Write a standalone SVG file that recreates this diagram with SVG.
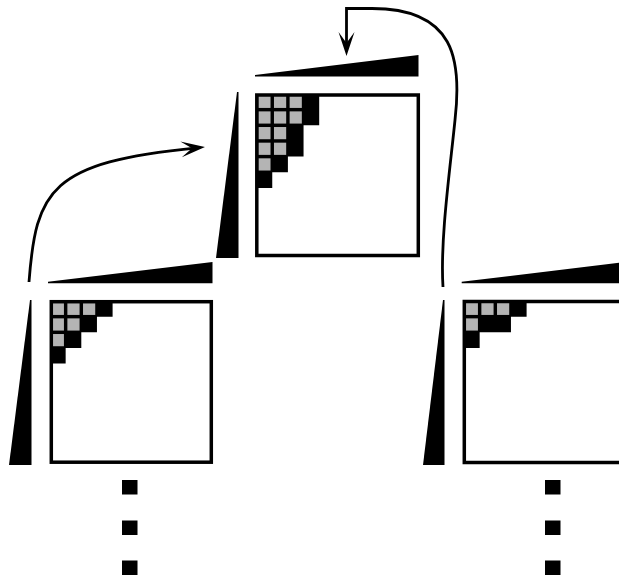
<svg xmlns="http://www.w3.org/2000/svg" xmlns:xlink="http://www.w3.org/1999/xlink" width="619" height="580" viewBox="0 0 619 580">
<style>
.box{fill:none;stroke:#000;stroke-width:3.5}
.wedge{fill:#000}
.stair{fill:#000}
.conn{fill:none;stroke:#000;stroke-width:2.8}
.dot{fill:#000}
</style>
<defs>
<rect id="c" x="0.11" y="0.11" width="0.78" height="0.78" fill="#b4b4b4"/>
<marker id="arr" markerUnits="userSpaceOnUse" markerWidth="30" markerHeight="20" refX="18" refY="10" orient="auto" overflow="visible">
<path d="M26,10 L2,2 L13,10 L2,18 Z" fill="#000"/>
</marker>
</defs>
<rect width="619" height="580" fill="#fff"/>

<g id="matrix-top">
<polygon class="wedge" points="255,75 255,76.5 418.5,76.5 418.5,55"/>
<polygon class="wedge" points="237,92 238.5,92 238.5,258 216,258"/>
<g transform="translate(256.6,94) scale(15.65)">
<polygon class="stair" points="0,0 4,0 4,2 3,2 3,4 2,4 2,5 1,5 1,6 0,6"/>
<use xlink:href="#c" x="0" y="0"/><use xlink:href="#c" x="1" y="0"/><use xlink:href="#c" x="2" y="0"/>
<use xlink:href="#c" x="0" y="1"/><use xlink:href="#c" x="1" y="1"/><use xlink:href="#c" x="2" y="1"/>
<use xlink:href="#c" x="0" y="2"/><use xlink:href="#c" x="1" y="2"/>
<use xlink:href="#c" x="0" y="3"/><use xlink:href="#c" x="1" y="3"/>
<use xlink:href="#c" x="0" y="4"/>
</g>
<rect class="box" x="256.8" y="95" width="161.5" height="160.5"/>
</g>

<g id="matrix-left">
<polygon class="wedge" points="48,281.8 48,283.3 212.5,283.3 212.5,262"/>
<polygon class="wedge" points="30,300 31.5,300 31.5,465 9,465"/>
<g transform="translate(50,301) scale(15.65)">
<polygon class="stair" points="0,0 4,0 4,1 3,1 3,2 2,2 2,3 1,3 1,4 0,4"/>
<use xlink:href="#c" x="0" y="0"/><use xlink:href="#c" x="1" y="0"/><use xlink:href="#c" x="2" y="0"/>
<use xlink:href="#c" x="0" y="1"/><use xlink:href="#c" x="1" y="1"/>
<use xlink:href="#c" x="0" y="2"/>
</g>
<rect class="box" x="51.3" y="301.7" width="160" height="160.5"/>
</g>

<g id="matrix-right">
<polygon class="wedge" points="461.7,281.8 461.7,283.3 625,283.3 625,262"/>
<polygon class="wedge" points="443,300 444.5,300 444.5,465 423,465"/>
<g transform="translate(464,301) scale(15.65)">
<polygon class="stair" points="0,0 4,0 4,1 3,1 3,2 1,2 1,3 0,3"/>
<use xlink:href="#c" x="0" y="0"/><use xlink:href="#c" x="1" y="0"/><use xlink:href="#c" x="2" y="0"/>
<use xlink:href="#c" x="0" y="1"/>
</g>
<rect class="box" x="464.3" y="301.5" width="160" height="161"/>
</g>

<g id="dots-left">
<rect class="dot" x="122" y="480" width="15.5" height="14.5"/>
<rect class="dot" x="122" y="520.5" width="15.5" height="14.5"/>
<rect class="dot" x="122" y="560.5" width="15.5" height="14.5"/>
</g>
<g id="dots-right">
<rect class="dot" x="545" y="480" width="15.5" height="14.5"/>
<rect class="dot" x="545" y="520.5" width="15.5" height="14.5"/>
<rect class="dot" x="545" y="560.5" width="15.5" height="14.5"/>
</g>

<g id="connectors">
<path class="conn" d="M29,282 C36,190 50,162 197,147.8" marker-end="url(#arr)"/>
<path class="conn" d="M443,287 C440,240 450,170 455,120 C462,60 455,8.5 372,8.5 L346.5,8.5 L346.5,48" marker-end="url(#arr)"/>
</g>
</svg>
